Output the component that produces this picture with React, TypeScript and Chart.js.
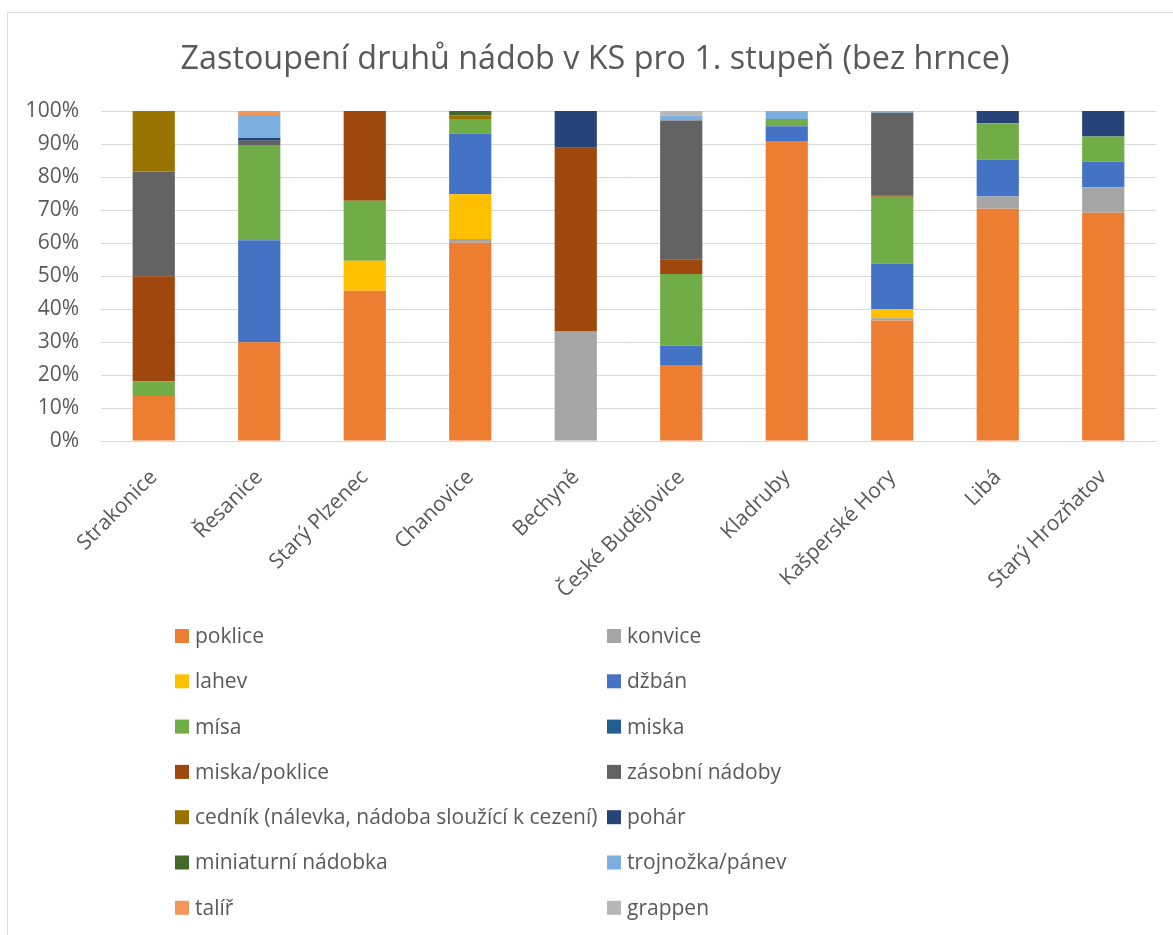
import React, { useEffect, useRef } from 'react';
import { Chart, registerables } from 'chart.js';

Chart.register(...registerables);

const categories = [
  'Strakonice',
  'Řesanice',
  'Starý Plzenec',
  'Chanovice',
  'Bechyně',
  'České Budějovice',
  'Kladruby',
  'Kašperské Hory',
  'Libá',
  'Starý Hrozňatov',
];

const poklice = [13.6, 29.9, 45.5, 60.1, 0, 23.0, 90.9, 36.5, 70.4, 69.2];
const konvice = [0, 0, 0, 1.1, 33.3, 0, 0, 0.7, 3.7, 7.7];
const lahev = [0, 0, 9.1, 13.6, 0, 0, 0, 2.7, 0, 0];
const dzban = [0, 30.9, 0, 18.3, 0, 5.9, 4.5, 13.8, 11.1, 7.7];
const misa = [4.5, 28.9, 18.2, 4.5, 0, 21.7, 2.2, 20.3, 11.1, 7.7];
const miska = [0, 0, 0, 0, 0, 0, 0, 0, 0, 0];
const miskaPoklice = [31.8, 0, 27.2, 0, 55.6, 4.5, 0, 0.5, 0, 0];
const zasobni = [31.8, 1.3, 0, 0, 0, 42.0, 0, 25.0, 0, 0];
const cednik = [18.3, 0, 0, 1.1, 0, 0, 0, 0, 0, 0];
const pohar = [0, 0.8, 0, 0, 11.1, 0, 0, 0, 3.7, 7.7];
const miniaturni = [0, 0, 0, 1.3, 0, 0, 0, 0, 0, 0];
const trojnozka = [0, 7.0, 0, 0, 0, 1.5, 2.4, 0.5, 0, 0];
const talir = [0, 1.2, 0, 0, 0, 0, 0, 0, 0, 0];
const grappen = [0, 0, 0, 0, 0, 1.4, 0, 0, 0, 0];

const seriesNames = [
  'poklice',
  'konvice',
  'lahev',
  'džbán',
  'mísa',
  'miska',
  'miska/poklice',
  'zásobní nádoby',
  'cedník (nálevka, nádoba sloužící k cezení)',
  'pohár',
  'miniaturní nádobka',
  'trojnožka/pánev',
  'talíř',
  'grappen',
];
const seriesValues = [
  poklice, konvice, lahev, dzban, misa, miska, miskaPoklice,
  zasobni, cednik, pohar, miniaturni, trojnozka, talir, grappen,
];
const seriesColors = [
  '#ED7D31', '#A5A5A5', '#FFC000', '#4472C4', '#70AD47', '#255E91', '#9E480E',
  '#636363', '#997300', '#264478', '#43682B', '#7CAFDD', '#F1975A', '#B7B7B7',
];

const yTickValues = [0, 10, 20, 30, 40, 50, 60, 70, 80, 90, 100];
const chartTitle = 'Zastoupení druhů nádob v KS pro 1. stupeň (bez hrnce)';

const FONT = '"Open Sans", sans-serif';
const TEXT = '#595959';
const GRID = '#D9D9D9';

const W = 1173;
const H = 935;

const framePlugin = {
  id: 'frame',
  beforeDraw(chart: any) {
    const ctx = chart.ctx;
    ctx.save();
    ctx.fillStyle = '#FFFFFF';
    ctx.fillRect(0, 0, chart.width, chart.height);
    ctx.strokeStyle = GRID;
    ctx.lineWidth = 1;
    ctx.beginPath();
    ctx.moveTo(7.5, chart.height);
    ctx.lineTo(7.5, 12.5);
    ctx.lineTo(chart.width, 12.5);
    ctx.stroke();
    ctx.restore();
  },
};

// Title centred on the whole chart frame (as in the reference), not on the plot padding box
const frameTitlePlugin = {
  id: 'frameTitle',
  afterDraw(chart: any) {
    const ctx = chart.ctx;
    ctx.save();
    ctx.font = `32.3px ${FONT}`;
    ctx.fillStyle = TEXT;
    ctx.textAlign = 'center';
    ctx.textBaseline = 'middle';
    ctx.fillText(chartTitle, 595, 60);
    ctx.restore();
  },
};

const gridLegendPlugin = {
  id: 'gridLegend',
  afterDraw(chart: any) {
    const ctx = chart.ctx;
    const colX = [175, 607];
    const firstRow = 636;
    const rowGap = 45.3;
    ctx.save();
    ctx.font = `21px ${FONT}`;
    ctx.textBaseline = 'middle';
    ctx.textAlign = 'left';
    chart.data.datasets.forEach((ds: any, i: number) => {
      const col = i % 2;
      const row = Math.floor(i / 2);
      const x = colX[col];
      const cy = firstRow + row * rowGap;
      ctx.fillStyle = ds.backgroundColor;
      ctx.fillRect(x, cy - 7, 14, 14);
      ctx.fillStyle = TEXT;
      ctx.fillText(ds.label, x + 20, cy + 1);
    });
    ctx.restore();
  },
};

export default function App() {
  const canvasRef = useRef<HTMLCanvasElement | null>(null);

  useEffect(() => {
    document.body.style.margin = '0';
    const canvas = canvasRef.current;
    if (!canvas) return;
    const chart = new Chart(canvas, {
      type: 'bar',
      data: {
        labels: categories,
        datasets: seriesNames.map((name, i) => ({
          label: name,
          data: seriesValues[i],
          backgroundColor: seriesColors[i],
          borderWidth: 0,
          barPercentage: 0.4,
          categoryPercentage: 1.0,
        })),
      },
      options: {
        responsive: false,
        animation: false,
        devicePixelRatio: 1,
        layout: {
          padding: { top: 111, left: 8, right: 17, bottom: 314 },
        },
        plugins: {
          legend: { display: false },
          tooltip: { enabled: false },
          title: { display: false },
        },
        scales: {
          x: {
            stacked: true,
            grid: { display: false, drawTicks: false },
            border: { display: true, color: GRID, width: 1 },
            ticks: {
              color: TEXT,
              font: { family: FONT, size: 21 },
              minRotation: 45,
              maxRotation: 45,
              autoSkip: false,
              padding: 24,
            },
            afterFit: (scale: any) => {
              scale.height = 180;
            },
          },
          y: {
            stacked: true,
            min: 0,
            max: 100,
            grid: { color: GRID, lineWidth: 1, drawTicks: false },
            border: { display: false },
            afterBuildTicks: (scale: any) => {
              scale.ticks = yTickValues.map((v) => ({ value: v }));
            },
            ticks: {
              color: TEXT,
              font: { family: FONT, size: 21 },
              padding: 22,
              callback: (v: any) => `${v}%`,
            },
            afterFit: (scale: any) => {
              scale.width = 93;
            },
          },
        },
      },
      plugins: [framePlugin, frameTitlePlugin, gridLegendPlugin],
    } as any);
    return () => chart.destroy();
  }, []);

  return (
    <div style={{ position: 'absolute', left: 0, top: 0, width: W, height: H }}>
      <canvas ref={canvasRef} width={W} height={H} style={{ display: 'block' }} />
    </div>
  );
}
